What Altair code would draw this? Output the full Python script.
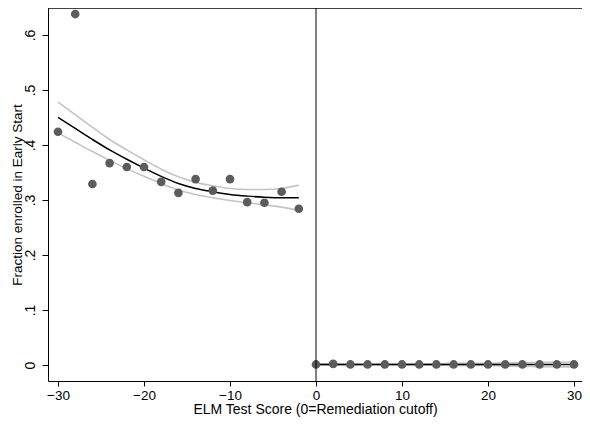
import altair as alt
import pandas as pd

# Binned scatter (left of cutoff)
x_left = [-30, -28, -26, -24, -22, -20, -18, -16, -14, -12, -10, -8, -6, -4, -2]
y_left = [0.424, 0.638, 0.329, 0.367, 0.360, 0.360, 0.333, 0.313, 0.338, 0.317,
          0.338, 0.296, 0.295, 0.315, 0.284]
fit_left = [0.450, 0.430, 0.410, 0.391, 0.374, 0.358, 0.343, 0.330, 0.321, 0.315,
            0.310, 0.307, 0.305, 0.304, 0.304]
hi_left = [0.478, 0.455, 0.432, 0.410, 0.391, 0.373, 0.356, 0.342, 0.332, 0.326,
           0.321, 0.319, 0.319, 0.321, 0.327]
lo_left = [0.422, 0.405, 0.388, 0.372, 0.357, 0.343, 0.330, 0.318, 0.310, 0.304,
           0.299, 0.295, 0.291, 0.287, 0.281]

# Binned scatter (right of cutoff)
x_right = [0, 2, 4, 6, 8, 10, 12, 14, 16, 18, 20, 22, 24, 26, 28, 30]
y_right = [0.001, 0.002, 0.001, 0.001, 0.001, 0.001, 0.001, 0.001, 0.001, 0.001,
           0.001, 0.001, 0.001, 0.001, 0.001, 0.001]
fit_right = [0.001] * 16
hi_right = [0.002, 0.002, 0.002, 0.002, 0.002, 0.002, 0.002, 0.002, 0.003, 0.003,
            0.003, 0.004, 0.004, 0.005, 0.005, 0.006]
lo_right = [0.000, 0.000, 0.000, 0.000, 0.000, 0.000, 0.000, 0.000, -0.001, -0.001,
            -0.001, -0.002, -0.002, -0.003, -0.003, -0.004]

x_ticks = [-30, -20, -10, 0, 10, 20, 30]
y_ticks = [0, 0.1, 0.2, 0.3, 0.4, 0.5, 0.6]

pts = pd.DataFrame({"x": x_left + x_right, "y": y_left + y_right})

rows = []
for side, xs, f, h, l in [("L", x_left, fit_left, hi_left, lo_left),
                          ("R", x_right, fit_right, hi_right, lo_right)]:
    for xi, fi, hi, li in zip(xs, f, h, l):
        rows.append({"x": xi, "v": fi, "kind": "fit", "grp": side + "fit"})
        rows.append({"x": xi, "v": hi, "kind": "ci", "grp": side + "hi"})
        rows.append({"x": xi, "v": li, "kind": "ci", "grp": side + "lo"})
lines = pd.DataFrame(rows)

W, H = 534, 373
xscale = alt.Scale(domain=[-31.163, 30.93], nice=False, zero=False)
yscale = alt.Scale(domain=[-0.0291, 0.649], nice=False, zero=False)

xaxis = alt.Axis(values=x_ticks, title="ELM Test Score (0=Remediation cutoff)",
                 grid=False, labelFontSize=13.5, titleFontSize=14, labelColor="black",
                 titleColor="black", titleFontWeight="normal", domainColor="black",
                 tickColor="black", tickSize=5, labelPadding=2, titlePadding=1,
                 labelFlush=False, labelFont="Liberation Sans", titleFont="Liberation Sans")
yaxis = alt.Axis(values=y_ticks, title="Fraction enrolled in Early Start",
                 grid=False, labelFontSize=14, titleFontSize=13.5, labelColor="black",
                 titleColor="black", titleFontWeight="normal", domainColor="black",
                 tickColor="black", tickSize=6, labelAngle=-90, labelAlign="center",
                 labelBaseline="bottom", labelPadding=5, titlePadding=-1,
                 labelFont="Liberation Sans", titleFont="Liberation Sans",
                 labelExpr="datum.value == 0 ? '0' : substring(format(datum.value, '.1f'), 1)")

ci = alt.Chart(lines).transform_filter(alt.datum.kind == "ci").mark_line(
    color="#c4c4c4", strokeWidth=1.6, interpolate="monotone"
).encode(
    x=alt.X("x:Q", scale=xscale, axis=xaxis),
    y=alt.Y("v:Q", scale=yscale, axis=yaxis),
    detail="grp:N",
)

fit = alt.Chart(lines).transform_filter(alt.datum.kind == "fit").mark_line(
    color="black", strokeWidth=1.5, interpolate="monotone"
).encode(
    x=alt.X("x:Q", scale=xscale),
    y=alt.Y("v:Q", scale=yscale),
    detail="grp:N",
)

dots = alt.Chart(pts).mark_circle(size=75, color="#5c5c5c", opacity=1).encode(
    x=alt.X("x:Q", scale=xscale),
    y=alt.Y("y:Q", scale=yscale),
)

vline = alt.Chart(pd.DataFrame({"x": [0]})).mark_rule(color="black", strokeWidth=1).encode(
    x=alt.X("x:Q", scale=xscale),
    y=alt.value(0),
    y2=alt.value(H),
)

topline = alt.Chart(pd.DataFrame({"a": [0]})).mark_rule(color="black", strokeWidth=1.5).encode(
    x=alt.value(0), x2=alt.value(W), y=alt.value(0)
)

chart = alt.layer(ci, fit, dots, vline, topline).properties(
    width=W, height=H,
    autosize=alt.AutoSizeParams(type="none"),
    padding={"left": 40, "top": 0, "right": 0, "bottom": 37},
    background="white",
).configure_view(stroke=None)

chart.save("out.html", embed_options={"renderer": "svg", "actions": False})
